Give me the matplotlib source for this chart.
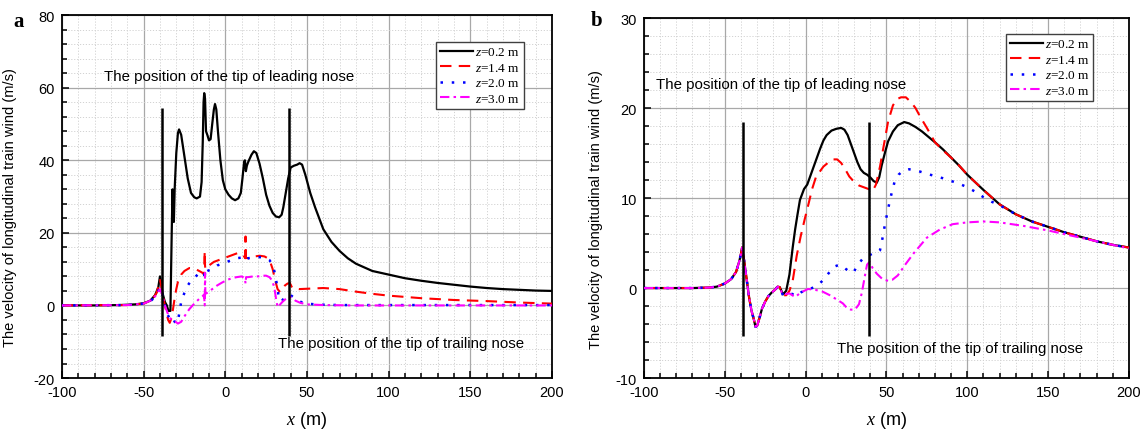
import matplotlib
matplotlib.use("Agg")
import matplotlib.pyplot as plt
from matplotlib.ticker import MultipleLocator

plt.rcParams['font.family'] = ['Liberation Sans', 'DejaVu Sans']
plt.rcParams['axes.unicode_minus'] = False
plt.rcParams['mathtext.fontset'] = 'custom'
plt.rcParams['mathtext.it'] = 'Liberation Serif:italic'
plt.rcParams['mathtext.rm'] = 'Liberation Serif'

# ---------------- data: panel a ----------------
a_x02 = [-100, -80, -65, -55, -50, -46, -43, -41, -40, -39.5, -38.5, -37, -35.8, -34.8, -33.6, -32.8, -32.3,
         -31.9, -31.5, -31, -30, -29, -28.3, -27, -25, -23, -21, -19, -17.5, -15.5, -14.5, -13.8, -13.3,
         -12.9, -12.4, -11.8, -11, -10, -9, -8, -7, -6.3, -5.5, -4.5, -3, -1.5, 0, 2, 4, 6, 8, 9.5, 10.5,
         11.5, 12, 12.6, 13.2, 14, 15, 16, 17.5, 19, 21, 23, 25, 27, 29, 31, 33, 34.5, 35.5, 37, 38.5, 40,
         42, 44, 45.5, 47, 49, 52, 55, 60, 65, 70, 75, 80, 90, 100, 110, 120, 130, 140, 150, 160, 170, 180,
         190, 200]
a_y02 = [0, 0, 0.1, 0.3, 0.6, 1.3, 2.8, 5, 8, 7, 3.5, 1, 0, -1.5, -1.5, 20, 32, 24, 23, 32, 42, 47.5, 48.5,
         47, 41, 35, 31, 29.8, 29.5, 30, 34, 45, 56, 58.5, 57, 48, 47, 45.5, 45.8, 50, 54, 55.5, 54, 48, 40,
         34.5, 32, 30.5, 29.5, 29, 29.5, 31, 35, 39.5, 40, 37, 38.5, 39.5, 40.5, 41.5, 42.5, 42, 39, 35, 30.5,
         27.5, 25.5, 24.5, 24.3, 25, 27, 31, 35, 38, 38.5, 38.8, 39.2, 38.8, 36, 31, 27, 21, 17.5, 15, 13,
         11.5, 9.5, 8.5, 7.5, 6.8, 6.2, 5.7, 5.2, 4.8, 4.5, 4.3, 4.1, 4.0]

a_x14 = [-100, -60, -50, -45, -42, -40, -39, -37.5, -36, -35, -34, -33, -32, -31, -30, -29, -27, -25, -22,
         -19, -16, -14, -13, -12.6, -12.4, -12.2, -11.5, -10, -7, -4, -1, 2, 5, 8, 10, 11.5, 12.2, 12.4,
         12.6, 13.5, 15, 18, 21, 24, 26, 27.5, 29, 30.5, 32, 33.5, 35, 36.5, 38, 39.5, 41, 45, 50, 60, 70,
         80, 90, 100, 120, 140, 160, 180, 200]
a_y14 = [0, 0.1, 0.5, 1.5, 3.5, 7, 5, 1, -2, -4, -4.8, -3.5, -1, 2, 4.5, 6.5, 8.5, 9.5, 10.3, 10.2, 9.5, 9,
         8.5, 15, 11, 10, 10.3, 11, 12, 12.5, 13, 13.5, 14, 14.5, 14.2, 13.5, 13, 19, 13.2, 13, 13.2, 13.5,
         13.7, 13.5, 13, 12, 10, 7, 4.5, 3.7, 4.5, 5.5, 6, 6.2, 4.8, 4.5, 4.6, 4.8, 4.5, 3.8, 3.2, 2.7, 2,
         1.5, 1.2, 0.8, 0.5]

a_x20 = [-100, -60, -50, -45, -42, -40, -39, -37, -35.5, -34, -32.5, -31, -29.5, -28.5, -27, -25, -23, -21,
         -19, -17, -14, -13, -12.6, -12.4, -12.2, -11, -8, -5, -2, 1, 4, 7, 10, 12, 12.4, 12.7, 14, 17, 20,
         23, 25, 27, 28.5, 30, 31.5, 33, 34.5, 36, 38, 39.5, 41, 43, 46, 50, 55, 60, 70, 100, 150, 200]
a_y20 = [0, 0.1, 0.5, 1.5, 3, 5, 4, 0, -2.5, -3.5, -3, -4.5, -5, -3, 1, 3.5, 5.5, 6.8, 7.5, 8.5, 9, 9.2, 7,
         10, 9.2, 9.5, 10, 11, 11.5, 12, 12.5, 13, 13.2, 13, 13, 12.5, 13, 13.2, 13.3, 13.3, 13, 12.5, 11.5,
         9.5, 6, 1.5, 1.2, 2, 2.5, 3, 2.5, 1.8, 1, 0.5, 0.3, 0.2, 0.1, 0.1, 0.1, 0.1]

a_x30 = [-100, -60, -50, -45, -42, -40, -39, -37, -35, -33, -31, -29, -27, -25, -22, -19, -16, -14, -13,
         -12.6, -12.4, -12.2, -11, -8, -5, -2, 1, 4, 7, 10, 12, 12.4, 12.7, 14, 17, 20, 23, 25, 27, 28.5, 30,
         31, 32, 33, 35, 37, 39, 41, 43, 46, 50, 60, 80, 100, 150, 200]
a_y30 = [0, 0.1, 0.5, 1.5, 3, 4.5, 3.5, 0, -2.5, -4, -4.3, -5, -4.5, -3, -1, 0.5, 1.8, 2.5, 3, 0, 9, 3.2,
         3.5, 4.5, 5.5, 6.3, 7, 7.5, 7.8, 8, 7.5, 6, 7.8, 7.8, 8, 8, 8.2, 8.2, 7.8, 7, 5, 2, -0.5, 0, 1, 1.8,
         2.5, 2, 1.3, 0.7, 0.3, 0.1, 0, 0, 0, 0]

a_nose_x = [-39, 39]
a_nose_lo = -8.5
a_nose_hi = 54.5

# ---------------- data: panel b ----------------
b_x02 = [-100, -70, -60, -55, -50, -46, -43, -41, -40, -39.3, -38, -36.5, -35, -33.5, -32, -31, -30, -28.5,
         -27, -25, -23, -21, -19, -17.3, -16, -15, -14, -12, -10, -8, -6.5, -5, -3.5, -1, 1, 3, 6, 9, 11, 13,
         16, 19, 22, 24, 26, 28, 30, 32, 34, 36, 38, 40, 42, 44, 45.5, 47, 49, 51, 54, 57, 61, 64, 68, 72,
         76, 80, 85, 90, 95, 100, 110, 120, 130, 140, 150, 160, 170, 180, 190, 200]
b_y02 = [0, 0, 0.05, 0.15, 0.5, 1, 1.8, 3, 3.8, 4.5, 3, 1, -1, -2.5, -3.5, -4.3, -4.2, -3.3, -2.3, -1.5,
         -0.9, -0.5, -0.2, 0.15, 0.1, -0.3, -0.7, -0.3, 1.5, 4.5, 6.5, 8.2, 9.8, 11, 11.5, 12.5, 14, 15.5,
         16.4, 17, 17.5, 17.7, 17.8, 17.6, 17, 16, 15, 14, 13.2, 12.8, 12.6, 12.3, 11.9, 11.7, 12.3, 13.6,
         15, 16.3, 17.4, 18.1, 18.45, 18.3, 17.9, 17.4, 16.8, 16.2, 15.4, 14.5, 13.6, 12.6, 10.9, 9.3, 8.2,
         7.4, 6.8, 6.2, 5.7, 5.2, 4.8, 4.5]

b_x14 = [-100, -70, -60, -55, -50, -46, -43, -41, -40, -39.3, -38, -36.5, -35, -33.5, -32, -31, -30, -28.5,
         -27, -25, -23, -21, -19, -17.3, -16, -15, -14, -12, -10, -8, -5.5, -3, -0.5, 2, 4, 6.5, 9, 11, 13,
         15, 17, 19.5, 22, 24.5, 27, 30, 33, 36, 39, 41.5, 43.5, 46, 48, 51, 54, 56.5, 59, 62, 65, 68, 71,
         75, 80, 85, 90, 95, 100, 110, 120, 130, 140, 150, 160, 170, 180, 190, 200]
b_y14 = [0, 0, 0.05, 0.15, 0.5, 1, 1.8, 3, 3.8, 4.5, 3, 1, -1, -2.5, -3.5, -4.3, -4.2, -3.3, -2.3, -1.5,
         -0.9, -0.5, -0.2, 0.15, 0.1, -0.4, -0.8, -0.8, -0.3, 0.8, 3.6, 5.8, 7.7, 9.5, 11, 12.4, 13, 13.5,
         13.8, 14.1, 14.3, 14.3, 13.9, 13.2, 12.4, 11.8, 11.4, 11.2, 11, 10.8, 11.5, 13.5, 15.5, 18.5, 20.3,
         21, 21.2, 21.2, 20.7, 20, 19, 17.8, 16.2, 15.3, 14.5, 13.6, 12.6, 10.9, 9.3, 8.2, 7.4, 6.8, 6.2, 5.7,
         5.2, 4.8, 4.5]

b_x20 = [-100, -70, -60, -55, -50, -46, -43, -41, -40, -39.3, -38, -36.5, -35, -33.5, -32, -31, -30, -28.5,
         -27, -25, -23, -21, -19, -17.3, -16, -15, -14, -12, -9, -5.5, -3, 0, 4, 8, 11, 14, 18, 21, 23, 25,
         27.5, 29.5, 32, 35, 38, 41, 44, 46, 47.5, 49, 51, 53, 55, 57.5, 60, 64, 68, 75, 85, 95, 100, 105,
         110, 115, 120, 130, 140, 150, 160, 170, 180, 190, 200]
b_y20 = [0, 0, 0.05, 0.15, 0.5, 1, 1.8, 3, 3.8, 4.5, 3, 1, -1, -2.5, -3.5, -4.3, -4.2, -3.3, -2.3, -1.5,
         -0.9, -0.5, -0.2, 0.15, 0.1, -0.4, -0.8, -0.8, -0.6, -0.9, -0.5, -0.2, 0, 0.4, 0.9, 1.6, 2.4, 2.6,
         2.4, 2.1, 1.8, 1.7, 2.5, 3.2, 3.5, 3.8, 3.9, 4.2, 5.5, 7, 8.8, 10.4, 11.8, 12.6, 13, 13.2, 13.1,
         12.7, 12.2, 11.6, 11.2, 10.7, 10.1, 9.6, 9.2, 8.2, 7.4, 6.8, 6.2, 5.7, 5.2, 4.8, 4.5]

b_x30 = [-100, -70, -60, -55, -50, -46, -43, -41, -40, -39.3, -38, -36.5, -35, -33.5, -32, -31, -30, -28.5,
         -27, -25, -23, -21, -19, -17.3, -16, -15, -14, -10, -6.5, -3, 1.5, 6, 10.5, 15, 19.5, 23, 25.5, 28,
         30.5, 33, 34.8, 36.5, 38, 39.5, 41.5, 44, 47.5, 51, 53.5, 57, 62, 67, 75, 83, 91, 100, 110, 120, 135,
         150, 165, 180, 190, 200]
b_y30 = [0, 0, 0.05, 0.15, 0.5, 1, 1.8, 3, 3.8, 4.5, 3, 1, -1, -2.5, -3.5, -4.3, -4.2, -3.3, -2.3, -1.5,
         -0.9, -0.5, -0.2, 0.15, 0.1, -0.4, -0.7, -0.6, -1, -0.5, -0.1, -0.2, -0.4, -0.8, -1.3, -1.7, -2.2,
         -2.4, -2.4, -1.8, -0.5, 1.2, 2.6, 2.9, 2.2, 1.6, 1.0, 0.8, 0.9, 1.4, 2.7, 3.9, 5.6, 6.5, 7.1, 7.3,
         7.4, 7.3, 6.9, 6.4, 5.8, 5.2, 4.8, 4.4]

b_nose_x = [-39, 39]
b_nose_lo = -5.3
b_nose_hi = 18.5

labels = ['$z$=0.2 m', '$z$=1.4 m', '$z$=2.0 m', '$z$=3.0 m']
ylab = 'The velocity of longitudinal train wind (m/s)'
lead_txt = 'The position of the tip of leading nose'
trail_txt = 'The position of the tip of trailing nose'

# ---------------- figure ----------------
fig = plt.figure(figsize=(11.45, 4.31), dpi=100)
axA = fig.add_axes([0.0541, 0.1206, 0.428, 0.842])
axB = fig.add_axes([0.5624, 0.1206, 0.4236, 0.835])


def style_axes(ax, ymin, ymax, ymaj, ymin_step):
    ax.set_xlim(-100, 200)
    ax.set_ylim(ymin, ymax)
    ax.xaxis.set_major_locator(MultipleLocator(50))
    ax.xaxis.set_minor_locator(MultipleLocator(10))
    ax.yaxis.set_major_locator(MultipleLocator(ymaj))
    ax.yaxis.set_minor_locator(MultipleLocator(ymin_step))
    ax.grid(which='major', color='#a8a8a8', lw=0.9, ls='-', zorder=0)
    ax.grid(which='minor', color='#d2d2d2', lw=0.7, ls=(0, (1.2, 1.8)), zorder=0)
    ax.set_axisbelow(True)
    ax.tick_params(which='both', direction='in', top=False, right=False, labelsize=10.5,
                   width=1.1, color='black')
    ax.tick_params(which='major', length=5, pad=5)
    ax.tick_params(which='minor', length=3.5)
    for s in ax.spines.values():
        s.set_linewidth(1.3)
        s.set_color('black')
    ax.set_xlabel(r'$\mathit{x}$ (m)', fontsize=13, va='center')
    ax.set_ylabel(ylab, fontsize=10.5)


def draw(ax, series, nose_x, lo, hi):
    (x1, y1), (x2, y2), (x3, y3), (x4, y4) = series
    ax.plot(x1, y1, color='black', lw=1.6, label=labels[0], zorder=3)
    ax.plot(x2, y2, color='#ff0000', lw=1.5, dashes=(5.5, 3.5), label=labels[1], zorder=3)
    ax.plot(x3, y3, color='#0000ff', lw=1.8, dashes=(1, 3.5), label=labels[2], zorder=3)
    ax.plot(x4, y4, color='#ff00ff', lw=1.5, dashes=(4.5, 2, 1.2, 2), label=labels[3], zorder=3)
    ax.vlines(nose_x, lo, hi, color='black', lw=1.8, zorder=4)


style_axes(axA, -20, 80, 20, 4)
style_axes(axB, -10, 30, 10, 2)

draw(axA, [(a_x02, a_y02), (a_x14, a_y14), (a_x20, a_y20), (a_x30, a_y30)], a_nose_x, a_nose_lo, a_nose_hi)
draw(axB, [(b_x02, b_y02), (b_x14, b_y14), (b_x20, b_y20), (b_x30, b_y30)], b_nose_x, b_nose_lo, b_nose_hi)

axA.yaxis.set_label_coords(-0.092, 0.473)
axB.yaxis.set_label_coords(-0.0845, 0.472)
axA.xaxis.set_label_coords(0.5, (379 - 420) / 363)
axB.xaxis.set_label_coords(0.5, (379 - 420) / 360)

axA.text(-74.3, 63.3, lead_txt, fontsize=10.8, va='center', ha='left')
axA.text(32.3, -10.4, trail_txt, fontsize=10.8, va='center', ha='left')
axB.text(-92.6, 22.7, lead_txt, fontsize=10.8, va='center', ha='left')
axB.text(19.4, -6.7, trail_txt, fontsize=10.8, va='center', ha='left')

for ax, anchor in ((axA, (0.763, 0.926)), (axB, (0.746, 0.956))):
    leg = ax.legend(loc='upper left', bbox_to_anchor=anchor, borderaxespad=0,
                    prop={'family': 'Liberation Serif', 'size': 9.5}, handlelength=2.5,
                    handletextpad=0.15, labelspacing=0.25, borderpad=0.3, fancybox=False,
                    framealpha=1, edgecolor='#404040')
    leg.get_frame().set_linewidth(1.0)

fig.text(18.5 / 1145, 1 - 22 / 431, 'a', fontsize=15, fontweight='bold', family='Liberation Serif',
         ha='center', va='center')
fig.text(597 / 1145, 1 - 21 / 431, 'b', fontsize=15, fontweight='bold', family='Liberation Serif',
         ha='center', va='center')

fig.savefig('out.png', dpi=100)
